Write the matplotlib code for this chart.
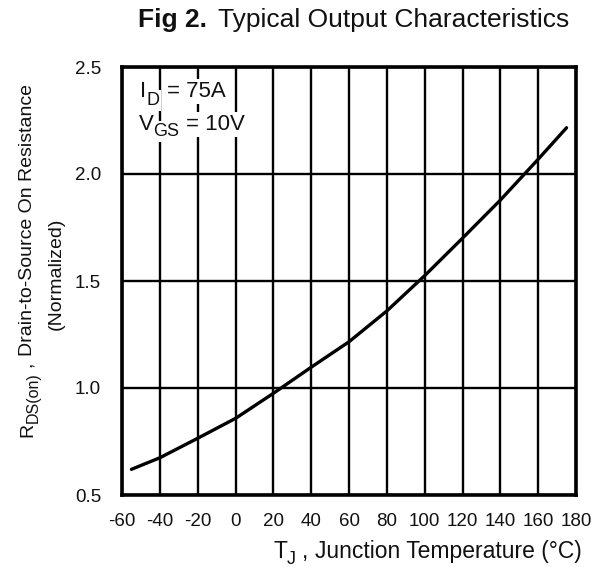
import matplotlib
matplotlib.use("Agg")
import matplotlib.pyplot as plt
from matplotlib.transforms import IdentityTransform

plt.rcParams['font.family'] = ['Liberation Sans', 'DejaVu Sans']

temp_c = [-55, -40, -20, 0, 20, 40, 60, 80, 100, 120, 140, 160, 175]
rds_norm = [0.62, 0.674, 0.765, 0.858, 0.975, 1.097, 1.216, 1.36, 1.525, 1.70, 1.878, 2.069, 2.216]
x_ticks = [-60, -40, -20, 0, 20, 40, 60, 80, 100, 120, 140, 160, 180]
y_ticks = [0.5, 1.0, 1.5, 2.0, 2.5]

W, H = 610, 583
fig = plt.figure(figsize=(W / 100, H / 100), dpi=100)
ax = fig.add_axes([122 / W, 88 / H, 454 / W, 428 / H])

ax.plot(temp_c, rds_norm, color='black', lw=2.4, solid_capstyle='round', zorder=3)

ax.set_xlim(-60, 180)
ax.set_ylim(0.5, 2.5)
ax.set_xticks(x_ticks)
ax.set_xticklabels([str(t) for t in x_ticks])
ax.set_yticks(y_ticks)
ax.set_yticklabels([f"{v:.1f}" for v in y_ticks])
ax.grid(True, color='black', lw=1.7)
ax.tick_params(length=0, labelsize=13.5, colors='#111111')
ax.tick_params(axis='y', pad=15)
ax.tick_params(axis='x', pad=13)
for s in ax.spines.values():
    s.set_linewidth(2.6)

renderer = fig.canvas.get_renderer()


def text_width(s, size, weight='normal'):
    t = fig.text(0, 0, s, fontsize=size, fontweight=weight, transform=IdentityTransform())
    w = t.get_window_extent(renderer).width
    t.remove()
    return w


def draw_runs(x0, y0, runs, rotation=0, align='left', bbox=None):
    """runs: (text, size, weight, baseline_shift_px, gap_before_px)"""
    widths = [text_width(r[0], r[1], r[2]) for r in runs]
    total = sum(widths) + sum(r[4] for r in runs)
    pos = 0.0
    if align == 'center':
        pos = -total / 2
    for (s, size, weight, shift, gap), w in zip(runs, widths):
        pos += gap
        if rotation == 90:
            x, y = x0 + shift, y0 + pos
        else:
            x, y = x0 + pos, y0 - shift
        common = dict(fontsize=size, fontweight=weight, rotation=rotation,
                      rotation_mode='anchor', ha='left', va='baseline',
                      transform=IdentityTransform())
        if bbox is not None:
            fig.text(x, y, s, color='white', bbox=bbox, zorder=4, **common)
        fig.text(x, y, s, color='#111111', zorder=5, **common)
        pos += w


# Title
draw_runs(354, H - 27, [("Fig 2.", 19, 'bold', 0, 0),
                        ("Typical Output Characteristics", 19, 'normal', 0, 11)],
          align='center')

# X label
draw_runs(273, H - 558, [("T", 16.5, 'normal', 0, 0),
                         ("J", 13, 'normal', 6, 0),
                         (",", 16.5, 'normal', 0, 6),
                         ("Junction Temperature (°C)", 16.5, 'normal', 0, 7)])

# Y label (two lines)
draw_runs(32, H - 437, [("R", 14, 'normal', 0, 0),
                        ("DS(on)", 11.5, 'normal', 6, 0),
                        (",", 14, 'normal', 0, 5),
                        ("Drain-to-Source On Resistance", 14, 'normal', 0, 6)],
          rotation=90)
draw_runs(61, H - 274, [("(Normalized)", 14, 'normal', 0, 0)], rotation=90, align='center')

# Conditions annotation
wb = dict(facecolor='white', edgecolor='none', pad=1.5)
draw_runs(140, H - 97, [("I", 16, 'normal', 0, 0),
                        ("D", 13, 'normal', 8, 0),
                        ("= 75A", 16, 'normal', 0, 8)], bbox=wb)
draw_runs(139, H - 130, [("V", 16, 'normal', 0, 0),
                         ("GS", 13, 'normal', 6, -1),
                         ("= 10V", 16, 'normal', 0, 7)], bbox=wb)

fig.savefig('out.png', dpi=100, facecolor='white')
